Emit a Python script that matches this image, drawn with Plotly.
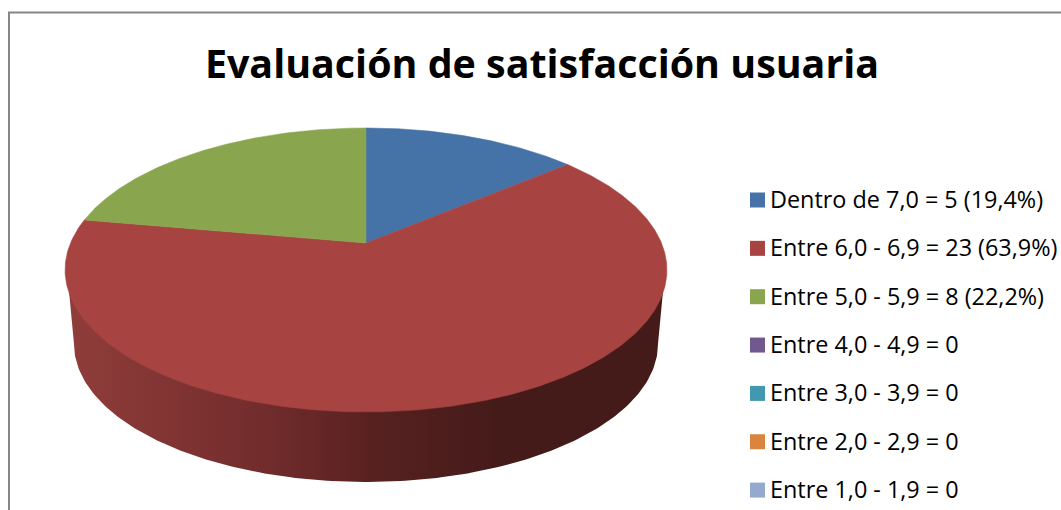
import numpy as np
import plotly.graph_objects as go

# --- data ---
categories = ["Dentro de 7,0 = 5 (19,4%)", "Entre 6,0 - 6,9 = 23 (63,9%)", "Entre 5,0 - 5,9 = 8 (22,2%)",
              "Entre 4,0 - 4,9 = 0", "Entre 3,0 - 3,9 = 0", "Entre 2,0 - 2,9 = 0", "Entre 1,0 - 1,9 = 0"]
values = [5, 23, 8, 0, 0, 0, 0]
colors = ["#4572A7", "#A74442", "#89A54E", "#71588F", "#4198AF", "#DB843D", "#93A9CF"]
title = "Evaluación de satisfacción usuaria"

# --- pie geometry (perspective projection of a disc, in page pixels) ---
CX, CY, A, B, K = 366, 243, 295.5, 136.9, 0.19


def project(theta):
    d = 1 + K * np.sin(theta)
    return CX + A * np.cos(theta) / d, CY - B * np.sin(theta) / d


fig = go.Figure()

# side wall: runs under the top face down to the lower rim
t = np.linspace(np.pi, 2 * np.pi, 200)
side_x = np.r_[366 + 299 * np.cos(t), 366 + 292 * np.cos(t[::-1])]
side_y = np.r_[270 - 134 * np.sin(t), 344 - 138 * np.sin(t[::-1])]
fig.add_trace(go.Scatter(
    x=side_x, y=side_y, mode="lines", line=dict(width=0), fill="toself", hoverinfo="skip",
    fillgradient=dict(type="horizontal", start=70, stop=660, colorscale=[
        [0, "#8F3D3A"], [0.33, "#722C2C"], [0.52, "#572120"], [0.72, "#451B1A"], [1, "#451B1A"]]),
))

# top face
total = sum(values)
start = 0.0
for name, v, c in zip(categories, values, colors):
    if v == 0:
        continue
    a0, a1 = start, start + v / total
    start = a1
    th = np.pi / 2 - 2 * np.pi * np.linspace(a0, a1, max(int(v * 20), 40))
    x, y = project(th)
    fig.add_trace(go.Scatter(
        x=np.r_[CX, x, CX], y=np.r_[CY, y, CY], mode="lines", line=dict(width=0.5, color=c),
        fill="toself", fillcolor=c, name=name, hoverinfo="name",
    ))

# legend
LX, LY0, LDY = 757.5, 200, 48.35
fig.add_trace(go.Scatter(
    x=[LX] * len(categories), y=[LY0 + i * LDY for i in range(len(categories))],
    mode="markers", marker=dict(symbol="square", size=15, color=colors, line=dict(width=0)),
    hoverinfo="skip", cliponaxis=False,
))
for i, name in enumerate(categories):
    fig.add_annotation(x=771, y=LY0 + i * LDY, text=name, showarrow=False, xanchor="left", yanchor="middle",
                       xref="x", yref="y", font=dict(family="Open Sans", size=23.4, color="#000000"),
                       borderpad=0, borderwidth=0, xshift=-1, yshift=1)

fig.update_layout(
    width=1061, height=510, margin=dict(l=0, r=0, t=0, b=0), showlegend=False,
    paper_bgcolor="white", plot_bgcolor="white",
    title=dict(text="<b>" + title + "</b>", x=542 / 1061, xanchor="center", y=1 - 64 / 510, yanchor="middle",
               font=dict(family="Open Sans", size=39.4, color="#000000")),
    xaxis=dict(range=[0, 1061], visible=False, fixedrange=True),
    yaxis=dict(range=[510, 0], visible=False, fixedrange=True),
    shapes=[
        dict(type="line", xref="x", yref="y", x0=9, x1=9, y0=12, y1=510, line=dict(color="#868686", width=2)),
        dict(type="line", xref="x", yref="y", x0=8, x1=1061, y0=12.5, y1=12.5, line=dict(color="#868686", width=2)),
    ],
)
fig.write_html("out.html", config=dict(displayModeBar=False),
               post_script="document.body.style.margin='0';document.documentElement.style.overflow='hidden';")
